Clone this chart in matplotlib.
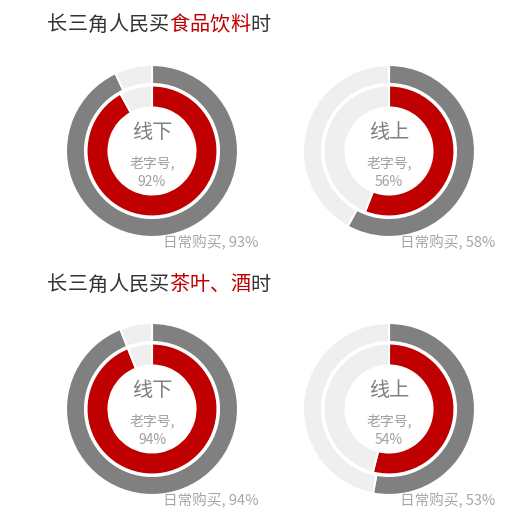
import matplotlib
matplotlib.use("Agg")
import matplotlib.pyplot as plt

plt.rcParams['font.family'] = ['Noto Sans CJK SC', 'DejaVu Sans']

# 数据
title_prefix = '长三角人民买'
title_items = ['食品饮料', '茶叶、酒']
title_suffix = '时'
channels = ['线下', '线上']
daily_pct = [[93, 58], [94, 53]]      # 外圈：日常购买
laozihao_pct = [[92, 56], [94, 54]]   # 内圈：老字号

W, H = 526, 525
DARK = '#808080'
RED = '#c00000'
LIGHT = '#efefef'

fig = plt.figure(figsize=(W / 100, H / 100), dpi=100)
ax = fig.add_axes([0, 0, 1, 1])

centers_x = [152, 389]
centers_y = [151, 409]
title_y = [25, 285]
TITLE_PT = 14.5


def py(y):
    # 像素坐标（从上往下）换成坐标轴坐标
    return H - y


for row in range(2):
    for col in range(2):
        cx, cy = centers_x[col], py(centers_y[row])
        d = daily_pct[row][col]
        l = laozihao_pct[row][col]
        ax.pie([d, 100 - d], radius=86, center=(cx, cy), startangle=90,
               counterclock=False, colors=[DARK, LIGHT],
               wedgeprops=dict(width=19, edgecolor='white', linewidth=1.5))
        ax.pie([l, 100 - l], radius=65.5, center=(cx, cy), startangle=90,
               counterclock=False, colors=[RED, LIGHT],
               wedgeprops=dict(width=22, edgecolor='white', linewidth=1.5))
        ax.text(cx, cy + 18, channels[col], ha='center', va='center',
                fontsize=14.5, color='#7f7f7f')
        ax.text(cx, cy - 12, '老字号,', ha='center', va='center',
                fontsize=10, color='#a0a0a0')
        ax.text(cx, cy - 31, '%d%%' % l, ha='center', va='center',
                fontsize=10, color='#a0a0a0')
        ax.text(cx + 11, cy - 92, '日常购买, %d%%' % d, ha='left', va='center',
                fontsize=10.5, color='#a6a6a6')

ax.set_xlim(0, W)
ax.set_ylim(0, H)
ax.set_aspect('equal')
ax.axis('off')

# 标题，分段着色：全角字逐字排，每格一个字号宽
em = TITLE_PT * 100 / 72 + 0.2
for row in range(2):
    chars = []
    for part, color in [(title_prefix, '#333333'), (title_items[row], RED),
                        (title_suffix, '#333333')]:
        chars += [(ch, color) for ch in part]
    for i, (ch, color) in enumerate(chars):
        ax.text(47 + (i + 0.5) * em, py(title_y[row]), ch, ha='center',
                va='center', fontsize=TITLE_PT, color=color)

fig.savefig('out.png', dpi=100)
